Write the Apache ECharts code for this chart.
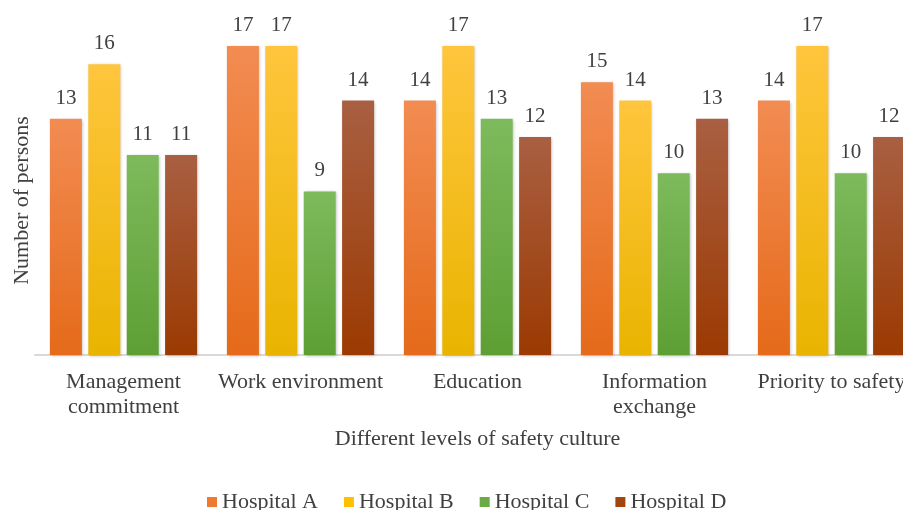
<!DOCTYPE html>
<html><head><meta charset="utf-8">
<script src="https://cdn.jsdelivr.net/npm/echarts@6/dist/echarts.min.js"></script>
<style>html,body{margin:0;padding:0;background:#fff}#c{width:903px;height:510px}</style>
</head><body><div id="c"></div>
<script>
var categories = ['Management\ncommitment', 'Work environment', 'Education', 'Information\nexchange', 'Priority to safety'];
var seriesNames = ['Hospital A', 'Hospital B', 'Hospital C', 'Hospital D'];
var hospitalA = [13, 17, 14, 15, 14];
var hospitalB = [16, 17, 17, 14, 17];
var hospitalC = [11, 9, 13, 10, 10];
var hospitalD = [11, 14, 12, 13, 12];
var seriesData = [hospitalA, hospitalB, hospitalC, hospitalD];
var colorsTop = ['#F28C52', '#FFC53D', '#7DBA5C', '#A95F42'];
var colorsBottom = ['#E56A1A', '#E9B400', '#5E9F34', '#9B3A02'];
var legendColors = ['#EE7A30', '#FFC000', '#6AAB43', '#A2450F'];
var font = '"Liberation Serif", "Times New Roman", serif';
var chart = echarts.init(document.getElementById('c'), null, {renderer: 'canvas'});
var series = seriesNames.map(function (n, i) {
  return {
    name: n, type: 'bar', data: seriesData[i], barWidth: 32, barGap: '20%',
    itemStyle: {
      color: new echarts.graphic.LinearGradient(0, 0, 0, 1, [{offset: 0, color: colorsTop[i]}, {offset: 1, color: colorsBottom[i]}]),
      shadowColor: 'rgba(0,0,0,0.25)', shadowBlur: 3, shadowOffsetX: 1, shadowOffsetY: 1
    },
    label: {show: true, position: 'top', distance: 10, color: '#404040', fontFamily: font, fontSize: 21}
  };
});
chart.setOption({
  animation: false,
  color: legendColors,
  grid: {left: 35, top: 46, width: 885, height: 309, containLabel: false, outerBoundsMode: 'none'},
  legend: {
    bottom: -8, left: 202, itemWidth: 10, itemHeight: 10, itemGap: 26, icon: 'rect',
    textStyle: {color: '#404040', fontFamily: font, fontSize: 22},
    data: seriesNames.map(function (n, i) { return {name: n, itemStyle: {color: legendColors[i]}}; })
  },
  xAxis: {
    type: 'category', data: categories,
    name: 'Different levels of safety culture', nameLocation: 'middle', nameGap: 73,
    nameTextStyle: {color: '#404040', fontFamily: font, fontSize: 22},
    axisLine: {lineStyle: {color: '#D9D9D9', width: 2}},
    axisTick: {show: false},
    axisLabel: {color: '#404040', fontFamily: font, fontSize: 22, margin: 15, lineHeight: 25, interval: 0}
  },
  yAxis: {
    type: 'value', min: 0, max: 17,
    name: 'Number of persons', nameLocation: 'middle', nameGap: 2, nameRotate: 90,
    nameTextStyle: {color: '#404040', fontFamily: font, fontSize: 22},
    axisLine: {show: false}, axisTick: {show: false}, axisLabel: {show: false}, splitLine: {show: false}
  },
  series: series
});
</script></body></html>
